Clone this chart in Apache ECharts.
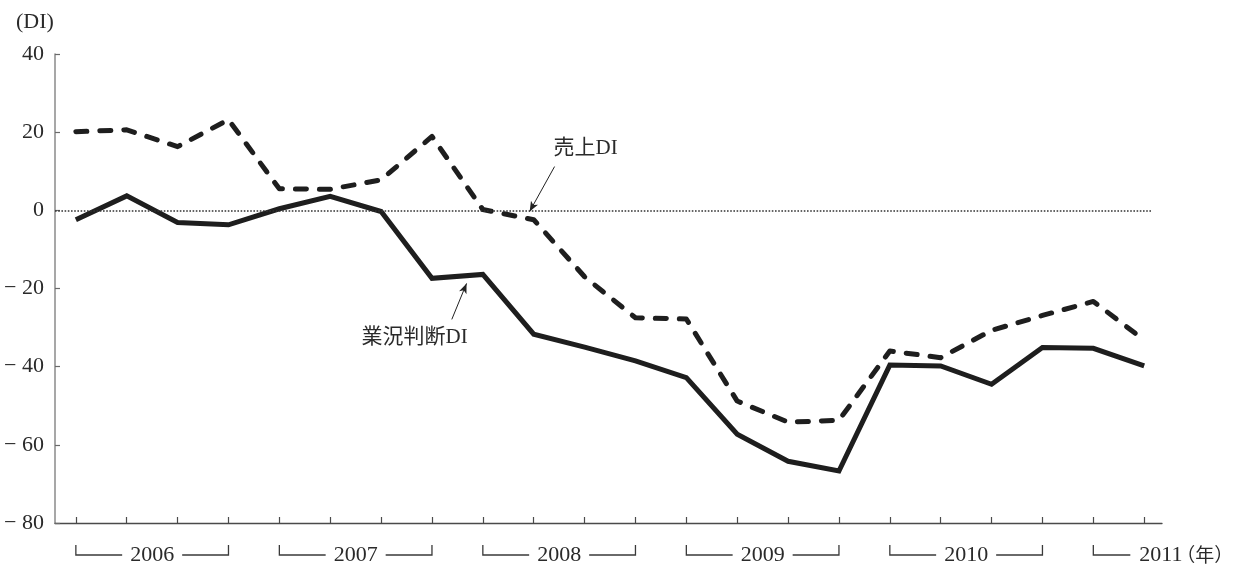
<!DOCTYPE html>
<html>
<head>
<meta charset="utf-8">
<script src="https://cdn.jsdelivr.net/npm/echarts@6/dist/echarts.min.js"></script>
<style>
  html, body { margin: 0; padding: 0; background: #fff; }
  #chart { width: 1236px; height: 567px; }
</style>
</head>
<body>
<div id="chart"></div>
<script>
// Quarterly survey results, 2006 Q1 – 2011 Q2
const quarters = [
  '2006Q1', '2006Q2', '2006Q3', '2006Q4',
  '2007Q1', '2007Q2', '2007Q3', '2007Q4',
  '2008Q1', '2008Q2', '2008Q3', '2008Q4',
  '2009Q1', '2009Q2', '2009Q3', '2009Q4',
  '2010Q1', '2010Q2', '2010Q3', '2010Q4',
  '2011Q1', '2011Q2'
];
// 売上DI (dashed)
const salesDI = [
  20.1, 20.6, 16.3, 23.2,
  5.5, 5.4, 7.8, 18.9,
  0.2, -2.4, -17.0, -27.5,
  -27.8, -48.8, -54.2, -53.7,
  -36.0, -37.7, -30.7, -26.9,
  -23.3, -33.2
];
// 業況判断DI (solid)
const businessDI = [
  -2.4, 3.7, -3.1, -3.7,
  0.4, 3.6, -0.3, -17.4,
  -16.4, -31.7, -35.0, -38.5,
  -42.8, -57.3, -64.2, -66.7,
  -39.6, -39.8, -44.5, -35.1,
  -35.3, -39.8
];
// Year groups below the axis (first / last quarter index)
const years = ['2006', '2007', '2008', '2009', '2010', '2011'];
const yearStart = [0, 4, 8, 12, 16, 20];
const yearEnd = [3, 7, 11, 15, 19, 21];
const yearUnit = '（年）';
// Value-axis ticks
const yTicks = [-80, -60, -40, -20, 0, 20, 40];

const SERIF = '"Liberation Serif", "DejaVu Serif", "Noto Sans CJK JP", serif';
const INK = '#1e1e1e';
const TEXT = '#2a2a2a';
const FONT_SIZE = 22;

const chart = echarts.init(document.getElementById('chart'), null, { renderer: 'canvas' });

function renderYearBracket(params, api) {
  const s = api.value(0), e = api.value(1);
  const p1 = api.coord([s, -80]);
  const p2 = api.coord([e, -80]);
  const y = p1[1] + 32;
  const top = y - 10;
  const idx = params.dataIndex;
  const style = { stroke: '#3a3a3a', lineWidth: 1.3, fill: null };
  const font = FONT_SIZE + 'px ' + SERIF;
  const children = [];
  if (idx < years.length - 1) {
    const c = (p1[0] + p2[0]) / 2;
    children.push({ type: 'polyline', shape: { points: [[p1[0], top], [p1[0], y], [c - 30, y]] }, style });
    children.push({ type: 'polyline', shape: { points: [[c + 30, y], [p2[0], y], [p2[0], top]] }, style });
    children.push({ type: 'text', style: { text: years[idx], x: c, y: y, align: 'center', verticalAlign: 'middle', font, fill: TEXT } });
  } else {
    children.push({ type: 'polyline', shape: { points: [[p1[0], top], [p1[0], y], [p1[0] + 37, y]] }, style });
    children.push({ type: 'text', style: { text: years[idx], x: p1[0] + 46, y: y, align: 'left', verticalAlign: 'middle', font, fill: TEXT } });
    children.push({ type: 'text', style: { text: yearUnit, x: p1[0] + 83, y: y, align: 'left', verticalAlign: 'middle', font: '19px "Noto Sans CJK JP", sans-serif', fill: TEXT } });
  }
  return { type: 'group', children };
}

const option = {
  animation: false,
  backgroundColor: '#fff',
  title: {
    text: '(DI)',
    left: 11,
    top: 6,
    textStyle: { fontFamily: SERIF, fontSize: FONT_SIZE, fontWeight: 'normal', color: TEXT }
  },
  grid: { left: 55, right: 74, top: 54, bottom: 44, containLabel: false },
  xAxis: {
    type: 'value',
    min: -0.41,
    max: 21.35,
    axisLine: { show: true, onZero: false, lineStyle: { color: '#4a4a4a', width: 1.3 } },
    axisTick: {
      show: true, inside: true, length: 6,
      customValues: quarters.map((q, i) => i),
      lineStyle: { color: '#4a4a4a', width: 1.2 }
    },
    axisLabel: { show: false },
    splitLine: { show: false }
  },
  yAxis: {
    type: 'value',
    min: -80,
    max: 40,
    interval: 20,
    axisLine: { show: true, onZero: false, lineStyle: { color: '#8a8a8a', width: 1.5 } },
    axisTick: { show: true, inside: true, length: 5, lineStyle: { color: '#6a6a6a', width: 1.2 } },
    axisLabel: {
      margin: 11,
      fontFamily: SERIF,
      fontSize: FONT_SIZE,
      color: TEXT,
      customValues: yTicks,
      formatter: v => (v < 0 ? '− ' + Math.abs(v) : String(v))
    },
    splitLine: { show: false }
  },
  series: [
    {
      name: '業況判断DI',
      type: 'line',
      data: quarters.map((q, i) => [i, businessDI[i]]),
      showSymbol: false,
      lineStyle: { color: INK, width: 5, join: 'miter' },
      z: 3,
      markLine: {
        silent: true,
        symbol: ['none', 'arrow'],
        symbolSize: [6, 10],
        label: { show: false },
        data: [
          [{ yAxis: 0, x: 55, symbol: 'none', lineStyle: { type: [1.6, 1.6], width: 1.6, color: '#333' } },
           { yAxis: 0, x: 1152, symbol: 'none' }],
          [{ coord: [7.39, -27.9], lineStyle: { type: 'solid', width: 1, color: '#222' } },
           { coord: [7.68, -18.7] }]
        ]
      },
      markPoint: {
        silent: true,
        symbol: 'circle',
        symbolSize: 1,
        itemStyle: { color: 'rgba(0,0,0,0)' },
        label: { show: true, position: 'inside', formatter: '{b}', fontFamily: SERIF, fontSize: 21, color: TEXT },
        data: [{ name: '業況判断DI', coord: [6.66, -32.6] }]
      }
    },
    {
      name: '売上DI',
      type: 'line',
      data: quarters.map((q, i) => [i, salesDI[i]]),
      showSymbol: false,
      lineStyle: { color: INK, width: 5, type: [11, 13], cap: 'round', join: 'round' },
      z: 3,
      markLine: {
        silent: true,
        symbol: ['none', 'arrow'],
        symbolSize: [6, 10],
        label: { show: false },
        lineStyle: { type: 'solid', width: 1, color: '#222' },
        data: [
          [{ coord: [9.41, 11.2] }, { coord: [8.92, -0.3] }]
        ]
      },
      markPoint: {
        silent: true,
        symbol: 'circle',
        symbolSize: 1,
        itemStyle: { color: 'rgba(0,0,0,0)' },
        label: { show: true, position: 'inside', formatter: '{b}', fontFamily: SERIF, fontSize: 21, color: TEXT },
        data: [{ name: '売上DI', coord: [10.02, 15.8] }]
      }
    },
    {
      name: 'years',
      type: 'custom',
      silent: true,
      clip: false,
      renderItem: renderYearBracket,
      encode: { x: [0, 1], y: 2 },
      data: years.map((y, i) => [yearStart[i], yearEnd[i], -80])
    }
  ]
};

chart.setOption(option);
</script>
</body>
</html>
